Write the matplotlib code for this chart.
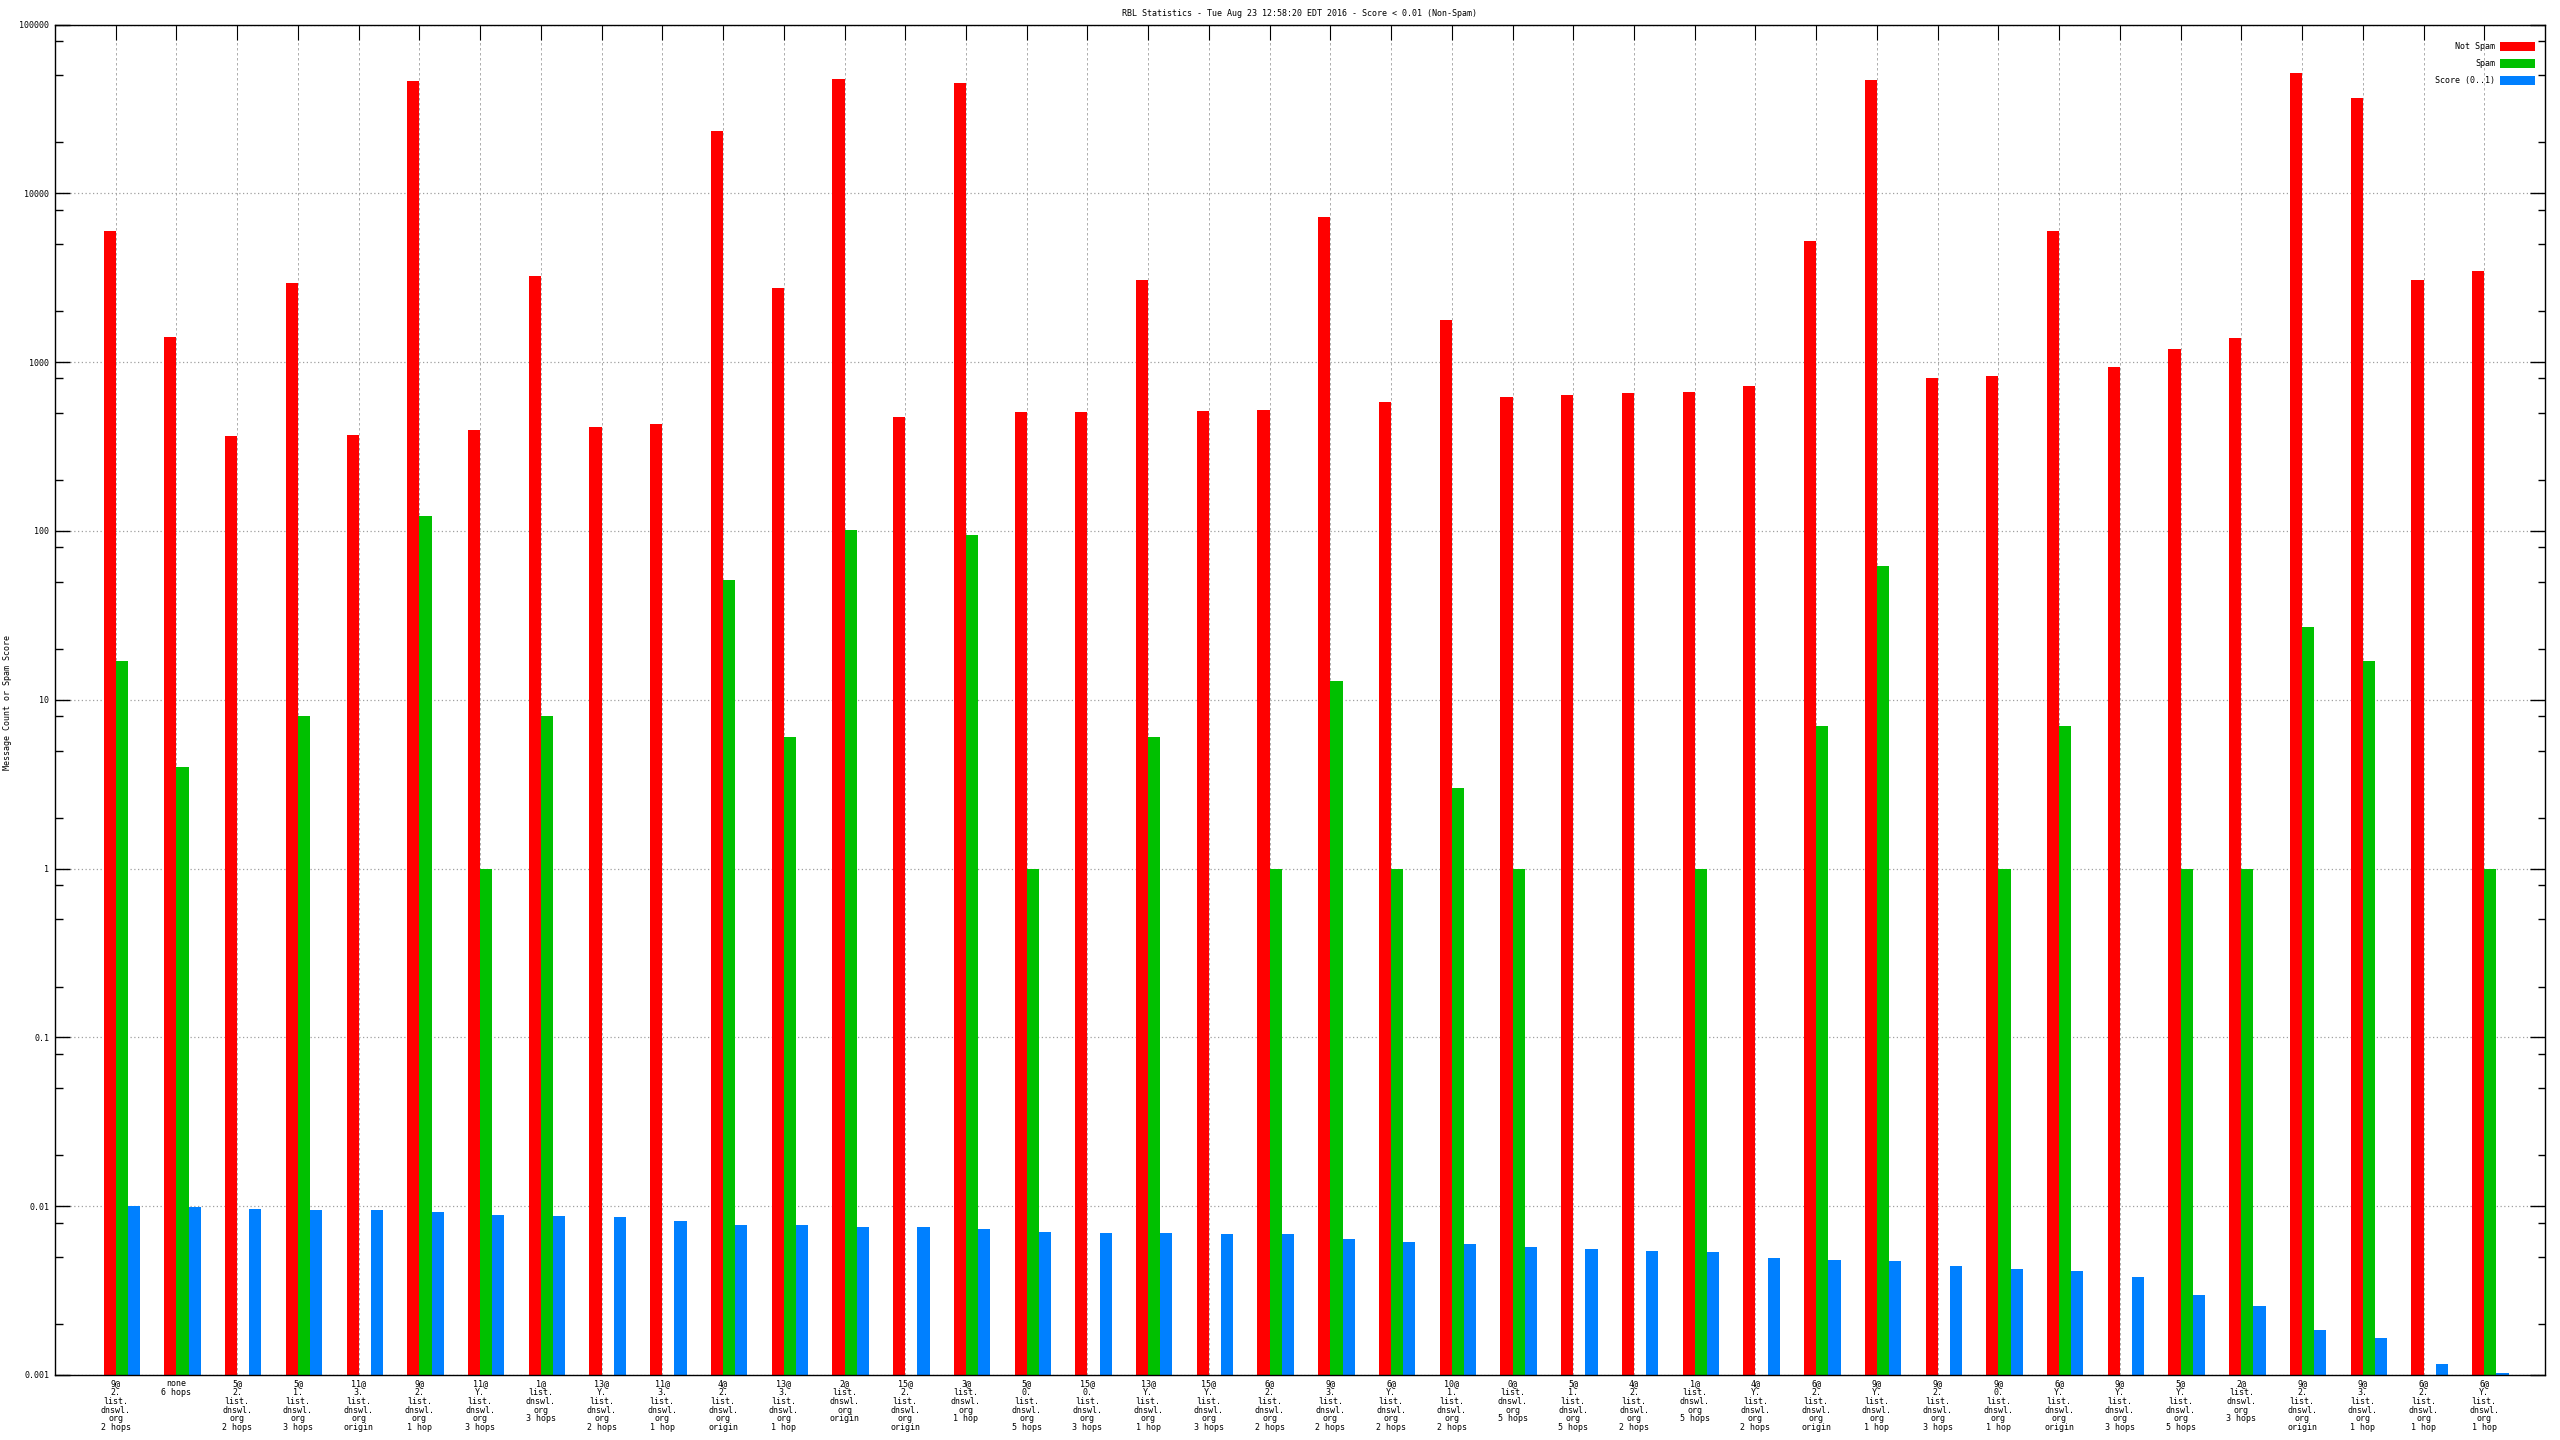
import numpy as np
import matplotlib
matplotlib.use("Agg")
import matplotlib.pyplot as plt
from matplotlib.patches import Rectangle
from matplotlib.ticker import FixedLocator, NullFormatter

plt.rcParams["font.family"] = ["DejaVu Sans Mono"]

# ── data ─────────────────────────────────────────────────────────────────────
labels = [
    "9@\n2.\nlist.\ndnswl.\norg\n2 hops", "none\n6 hops",
    "5@\n2.\nlist.\ndnswl.\norg\n2 hops", "5@\n1.\nlist.\ndnswl.\norg\n3 hops",
    "11@\n3.\nlist.\ndnswl.\norg\norigin", "9@\n2.\nlist.\ndnswl.\norg\n1 hop",
    "11@\nY.\nlist.\ndnswl.\norg\n3 hops", "1@\nlist.\ndnswl.\norg\n3 hops",
    "13@\nY.\nlist.\ndnswl.\norg\n2 hops", "11@\n3.\nlist.\ndnswl.\norg\n1 hop",
    "4@\n2.\nlist.\ndnswl.\norg\norigin", "13@\n3.\nlist.\ndnswl.\norg\n1 hop",
    "2@\nlist.\ndnswl.\norg\norigin", "15@\n2.\nlist.\ndnswl.\norg\norigin",
    "3@\nlist.\ndnswl.\norg\n1 hop", "5@\n0.\nlist.\ndnswl.\norg\n5 hops",
    "15@\n0.\nlist.\ndnswl.\norg\n3 hops", "13@\nY.\nlist.\ndnswl.\norg\n1 hop",
    "15@\nY.\nlist.\ndnswl.\norg\n3 hops", "6@\n2.\nlist.\ndnswl.\norg\n2 hops",
    "9@\n3.\nlist.\ndnswl.\norg\n2 hops", "6@\nY.\nlist.\ndnswl.\norg\n2 hops",
    "10@\n1.\nlist.\ndnswl.\norg\n2 hops", "0@\nlist.\ndnswl.\norg\n5 hops",
    "5@\n1.\nlist.\ndnswl.\norg\n5 hops", "4@\n2.\nlist.\ndnswl.\norg\n2 hops",
    "1@\nlist.\ndnswl.\norg\n5 hops", "4@\nY.\nlist.\ndnswl.\norg\n2 hops",
    "6@\n2.\nlist.\ndnswl.\norg\norigin", "9@\nY.\nlist.\ndnswl.\norg\n1 hop",
    "9@\n2.\nlist.\ndnswl.\norg\n3 hops", "9@\n0.\nlist.\ndnswl.\norg\n1 hop",
    "6@\nY.\nlist.\ndnswl.\norg\norigin", "9@\nY.\nlist.\ndnswl.\norg\n3 hops",
    "5@\nY.\nlist.\ndnswl.\norg\n5 hops", "2@\nlist.\ndnswl.\norg\n3 hops",
    "9@\n2.\nlist.\ndnswl.\norg\norigin", "9@\n3.\nlist.\ndnswl.\norg\n1 hop",
    "6@\n2.\nlist.\ndnswl.\norg\n1 hop", "6@\nY.\nlist.\ndnswl.\norg\n1 hop",
]

not_spam = [5980, 1410, 366, 2950, 372, 46200, 398, 3240, 414, 431,
            23400, 2750, 47500, 475, 45000, 508, 508, 3070, 515, 522,
            7240, 582, 1780, 624, 641, 659, 667, 725, 5230, 46900,
            807, 829, 5980, 938, 1200, 1390, 51500, 36600, 3070, 3470]

spam = [17, 4, 0, 8, 0, 122, 1, 8, 0, 0,
        51, 6, 101, 0, 94, 1, 0, 6, 0, 1,
        13, 1, 3, 1, 0, 0, 1, 0, 7, 62,
        0, 1, 7, 0, 1, 1, 27, 17, 0, 1]

score = [0.0100, 0.00986, 0.0096, 0.00947, 0.00947, 0.0092, 0.00885, 0.00873,
         0.00861, 0.00815, 0.00772, 0.00772, 0.00751, 0.00751, 0.00731, 0.00702,
         0.00692, 0.00692, 0.00683, 0.00683, 0.00638, 0.00612, 0.00596, 0.00572,
         0.00557, 0.00542, 0.00535, 0.00492, 0.00479, 0.00473, 0.00442, 0.00424,
         0.00412, 0.00380, 0.00297, 0.00256, 0.00185, 0.00166, 0.00116, 0.00103]

series_names = ["Not Spam", "Spam", "Score (0..1)"]
colors = ["#ff0000", "#00c000", "#0080ff"]

# ── figure ───────────────────────────────────────────────────────────────────
W, H = 2560, 1440
fig = plt.figure(figsize=(25.6, 14.4), dpi=100)
ax = fig.add_axes([55 / W, 1 - 1375 / H, 2490 / W, 1350.5 / H])

x = np.arange(len(labels))
bw = 0.2
for k, (vals, col) in enumerate(zip([not_spam, spam, score], colors)):
    v = np.array(vals, dtype=float)
    ax.bar(x + (k - 0.5) * bw, v, width=bw, color=col, linewidth=0, zorder=2)

ax.set_yscale("log")
ax.set_ylim(1e-3, 1e5)
ax.set_xlim(-1, len(labels))

# y ticks
majors = [10.0 ** k for k in range(-3, 6)]
ax.yaxis.set_major_locator(FixedLocator(majors))
ax.set_yticklabels(["0.001", "0.01", "0.1", "1", "10", "100", "1000", "10000", "100000"])
minors = [m * 10.0 ** k for k in range(-3, 5) for m in (2, 5, 8)]
ax.yaxis.set_minor_locator(FixedLocator(minors))
ax.yaxis.set_minor_formatter(NullFormatter())
ax.tick_params(axis="y", which="major", direction="in", length=10.8, width=1.0,
               left=True, right=True, labelsize=6, pad=4)
ax.tick_params(axis="y", which="minor", direction="in", length=5.4, width=1.0,
               left=True, right=True)

# x ticks
ax.set_xticks(x)
ax.set_xticklabels(labels, fontsize=6, linespacing=0.97, va="top")
ax.tick_params(axis="x", which="major", direction="in", length=10.8, width=0.8,
               top=True, bottom=False, labelbottom=True, pad=3)
ax.tick_params(axis="x", which="minor", bottom=False, top=False)

# grid
ax.grid(True, axis="x", color="#a0a0a0", linestyle=(0, (3, 3)), linewidth=0.6, zorder=0)
ax.grid(True, axis="y", which="major", color="#a0a0a0", linestyle=(0, (1, 2)),
        linewidth=0.9, zorder=0)
ax.set_axisbelow(True)

for sp in ax.spines.values():
    sp.set_linewidth(1.0)
    sp.set_zorder(3)

# title & y label
fig.text(1300 / W, 1 - 14 / H,
         "RBL Statistics - Tue Aug 23 12:58:20 EDT 2016 - Score < 0.01 (Non-Spam)",
         ha="center", va="center", fontsize=6)
fig.text(8 / W, 1 - 703 / H, "Message Count or Spam Score", rotation=90,
         ha="center", va="center", fontsize=6)

# legend (gnuplot style: text then colour box)
for i, (name, col) in enumerate(zip(series_names, colors)):
    yc = 46.5 + i * 17
    fig.text(2495 / W, 1 - yc / H, name, ha="right", va="center", fontsize=6)
    fig.patches.append(Rectangle((2500 / W, 1 - (yc + 4.2) / H), 35 / W, 8.4 / H,
                                 transform=fig.transFigure, facecolor=col,
                                 edgecolor="none", figure=fig))

fig.savefig("out.png", dpi=100)
